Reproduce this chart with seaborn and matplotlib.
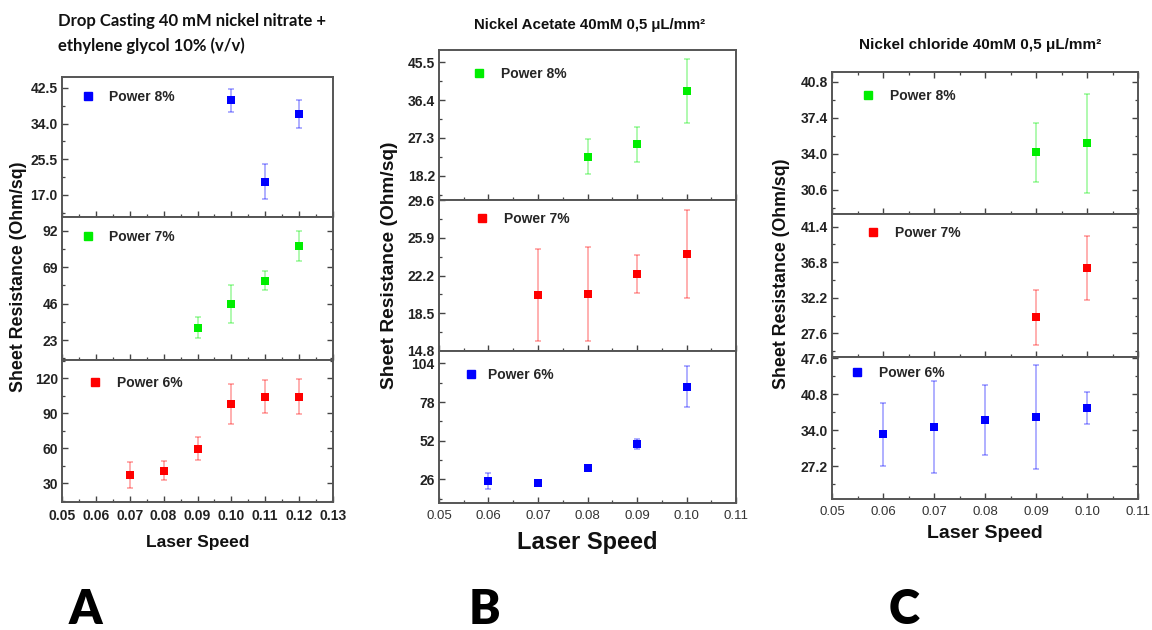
import matplotlib
matplotlib.use("Agg")
import matplotlib.pyplot as plt
from matplotlib.ticker import FixedLocator, FormatStrFormatter, MultipleLocator
from matplotlib.lines import Line2D
import seaborn as sns
import pandas as pd

sns.set_theme(style="white")
plt.rcParams['font.family'] = ['Liberation Sans', 'DejaVu Sans']

# ---------------- data ----------------
# Panel A: Drop casting nickel nitrate + ethylene glycol
a8_speed = [0.10, 0.11, 0.12]
a8_mean = [39.5, 20.1, 36.2]
a8_err = [2.8, 4.2, 3.3]
a7_speed = [0.09, 0.10, 0.11, 0.12]
a7_mean = [30.8, 45.8, 60.5, 82.4]
a7_err = [6.6, 11.8, 6.0, 9.7]
a6_speed = [0.07, 0.08, 0.09, 0.10, 0.11, 0.12]
a6_mean = [37.1, 40.8, 59.7, 98.0, 104.3, 104.3]
a6_err = [11.0, 8.1, 9.6, 17.5, 13.9, 15.0]

# Panel B: Nickel acetate
b8_speed = [0.08, 0.09, 0.10]
b8_mean = [22.8, 25.8, 38.7]
b8_err = [4.2, 4.2, 7.7]
b7_speed = [0.07, 0.08, 0.09, 0.10]
b7_mean = [20.27, 20.37, 22.34, 24.3]
b7_err = [4.5, 4.6, 1.9, 4.3]
b6_speed = [0.06, 0.07, 0.08, 0.09, 0.10]
b6_mean = [25.1, 23.5, 33.4, 49.6, 88.3]
b6_err = [5.4, 1.5, 2.0, 3.5, 13.7]

# Panel C: Nickel chloride
c8_speed = [0.09, 0.10]
c8_mean = [34.16, 35.0]
c8_err = [2.77, 4.7]
c7_speed = [0.09, 0.10]
c7_mean = [29.65, 36.06]
c7_err = [3.6, 4.2]
c6_speed = [0.06, 0.07, 0.08, 0.09, 0.10]
c6_mean = [33.2, 34.6, 35.9, 36.4, 38.2]
c6_err = [5.9, 8.7, 6.6, 9.8, 3.0]

labels = ["Power 8%", "Power 7%", "Power 6%"]
titles = ["Drop Casting 40 mM nickel nitrate +\nethylene glycol 10% (v/v)",
          "Nickel Acetate 40mM 0,5 \u03bcL/mm\u00b2",
          "Nickel chloride 40mM 0,5 \u03bcL/mm\u00b2"]
panel_letters = ["A", "B", "C"]

a_yticks = [[17.0, 25.5, 34.0, 42.5], [23, 46, 69, 92], [30, 60, 90, 120]]
b_yticks = [[18.2, 27.3, 36.4, 45.5], [14.8, 18.5, 22.2, 25.9, 29.6], [26, 52, 78, 104]]
c_yticks = [[30.6, 34.0, 37.4, 40.8], [27.6, 32.2, 36.8, 41.4], [27.2, 34.0, 40.8, 47.6]]
a_xticks = [0.05, 0.06, 0.07, 0.08, 0.09, 0.10, 0.11, 0.12, 0.13]
bc_xticks = [0.05, 0.06, 0.07, 0.08, 0.09, 0.10, 0.11]

BLUE, GREEN, RED = "#0000ff", "#00ee00", "#ff0000"

# ---------------- layout ----------------
W, H = 1152, 630
fig = plt.figure(figsize=(W / 100, H / 100), dpi=100)
fig.patch.set_facecolor("white")


def add_ax(x0, y0, x1, y1):
    return fig.add_axes([x0 / W, 1 - y1 / H, (x1 - x0) / W, (y1 - y0) / H])


def draw(ax, speed, mean, err, color, label, leg_xy, pad):
    df = pd.DataFrame({"speed": speed, "mean": mean})
    ax.errorbar(speed, mean, yerr=err, fmt="none", ecolor=color, alpha=0.4,
                elinewidth=1.1, capsize=2.5, capthick=1.1, zorder=2)
    sns.scatterplot(data=df, x="speed", y="mean", ax=ax, marker="s", s=36,
                    color=color, edgecolor=color, linewidth=0, zorder=3, legend=False)
    h = Line2D([], [], marker="s", linestyle="none", color=color, markersize=5.4)
    ax.legend([h], [label], loc="center left", bbox_to_anchor=leg_xy, frameon=False,
              handlelength=0.8, handletextpad=pad, borderpad=0, borderaxespad=0,
              prop={"weight": "bold", "size": 10})


def style(ax, xlim, xticks, ylim, yticks, fmt, bottom_labels, right_ticks, top_ticks,
          ytsize=10, xtbold=False, xtsize=9.5):
    ax.set_xlim(*xlim)
    ax.set_ylim(*ylim)
    ax.xaxis.set_major_locator(FixedLocator(xticks))
    ax.xaxis.set_minor_locator(MultipleLocator(0.005))
    ax.xaxis.set_major_formatter(FormatStrFormatter("%.2f"))
    ax.yaxis.set_major_locator(FixedLocator(yticks))
    step = yticks[1] - yticks[0]
    ax.yaxis.set_minor_locator(MultipleLocator(step / 2))
    ax.yaxis.set_major_formatter(FormatStrFormatter(fmt))
    ax.set_xlabel("")
    ax.set_ylabel("")
    ax.tick_params(axis="both", which="both", direction="in", colors="#444444",
                   labelcolor="#222222")
    ax.tick_params(axis="both", which="major", length=4.5, width=1.0)
    ax.tick_params(axis="both", which="minor", length=2.5, width=0.9)
    ax.tick_params(axis="y", which="both", left=True, right=right_ticks, labelsize=ytsize, pad=3)
    ax.tick_params(axis="x", which="both", bottom=True, top=top_ticks, labelbottom=bottom_labels,
                   labelsize=xtsize, pad=5)
    for lbl in ax.get_yticklabels():
        lbl.set_fontweight("bold")
    for lbl in ax.get_xticklabels():
        lbl.set_fontweight("bold" if xtbold else "normal")
        if not xtbold:
            lbl.set_color("#333333")
    for sp in ax.spines.values():
        sp.set_color("#555555")
        sp.set_linewidth(1.4)
    ax.set_facecolor("white")


# ---------- Panel A ----------
A_x0, A_x1 = 62, 333
A_rows = [(77, 217), (217, 360), (360, 502)]
a_sets = [(a8_speed, a8_mean, a8_err, BLUE), (a7_speed, a7_mean, a7_err, GREEN),
          (a6_speed, a6_mean, a6_err, RED)]
a_ylims = [(11.7, 45.1), (10.4, 100.7), (14.0, 135.7)]
a_fmts = ["%.1f", "%d", "%d"]
a_leg = [(0.075, 0.857), (0.075, 0.86), (0.10, 0.838)]
a_pad = [1.1, 1.1, 1.2]
for i, (y0, y1) in enumerate(A_rows):
    ax = add_ax(A_x0, y0, A_x1, y1)
    sp, mn, er, col = a_sets[i]
    draw(ax, sp, mn, er, col, labels[i], a_leg[i], a_pad[i])
    style(ax, (0.05, 0.13), a_xticks, a_ylims[i], a_yticks[i], a_fmts[i],
          bottom_labels=(i == 2), right_ticks=(i > 0), top_ticks=False,
          ytsize=10, xtbold=True, xtsize=10)

# ---------- Panel B ----------
B_x0, B_x1 = 439, 736
B_rows = [(50, 200), (200, 351), (351, 503)]
b_sets = [(b8_speed, b8_mean, b8_err, GREEN), (b7_speed, b7_mean, b7_err, RED),
          (b6_speed, b6_mean, b6_err, BLUE)]
b_ylims = [(12.35, 48.5), (14.8, 29.6), (10.1, 112.3)]
b_fmts = ["%.1f", "%.1f", "%d"]
b_leg = [(0.115, 0.84), (0.125, 0.874), (0.088, 0.842)]
b_pad = [1.2, 1.2, 0.85]
for i, (y0, y1) in enumerate(B_rows):
    ax = add_ax(B_x0, y0, B_x1, y1)
    sp, mn, er, col = b_sets[i]
    draw(ax, sp, mn, er, col, labels[i], b_leg[i], b_pad[i])
    style(ax, (0.05, 0.11), bc_xticks, b_ylims[i], b_yticks[i], b_fmts[i],
          bottom_labels=(i == 2), right_ticks=False, top_ticks=False,
          ytsize=10, xtbold=False, xtsize=9.5)

# ---------- Panel C ----------
C_x0, C_x1 = 832, 1138
C_rows = [(72, 214), (214, 357), (357, 499)]
c_sets = [(c8_speed, c8_mean, c8_err, GREEN), (c7_speed, c7_mean, c7_err, RED),
          (c6_speed, c6_mean, c6_err, BLUE)]
c_ylims = [(28.33, 41.74), (24.53, 43.05), (21.0, 47.8)]
c_fmts = ["%.1f", "%.1f", "%.1f"]
c_leg = [(0.098, 0.833), (0.115, 0.867), (0.063, 0.887)]
c_pad = [1.2, 1.2, 1.2]
for i, (y0, y1) in enumerate(C_rows):
    ax = add_ax(C_x0, y0, C_x1, y1)
    sp, mn, er, col = c_sets[i]
    draw(ax, sp, mn, er, col, labels[i], c_leg[i], c_pad[i])
    style(ax, (0.05, 0.11), bc_xticks, c_ylims[i], c_yticks[i], c_fmts[i],
          bottom_labels=(i == 2), right_ticks=True, top_ticks=(i == 0),
          ytsize=10, xtbold=False, xtsize=9.5)

# ---------- text ----------
def ftext(x, y, s, **kw):
    fig.text(x / W, 1 - y / H, s, **kw)

ylab = "Sheet Resistance (Ohm/sq)"
ftext(19, 277, ylab, rotation=90, ha="center", va="center", fontsize=12.8, fontweight="bold", color="#111111")
ftext(390, 265, ylab, rotation=90, ha="center", va="center", fontsize=13.8, fontweight="bold", color="#111111")
ftext(782, 274, ylab, rotation=90, ha="center", va="center", fontsize=12.8, fontweight="bold", color="#111111")

ftext(198, 542, "Laser Speed", ha="center", va="center", fontsize=12.5, fontweight="bold", color="#111111")
ftext(587, 542, "Laser Speed", ha="center", va="center", fontsize=17, fontweight="bold", color="#111111")
ftext(985, 534, "Laser Speed", ha="center", va="center", fontsize=14, fontweight="bold", color="#111111")

t1, t2 = titles[0].split("\n")
ftext(58, 21, t1, ha="left", va="center", fontsize=12, fontweight="bold", family="Lato", color="#111111")
ftext(58, 46, t2, ha="left", va="center", fontsize=12, fontweight="bold", family="Lato", color="#111111")
ftext(590, 25, titles[1], ha="center", va="center", fontsize=10.8, fontweight="bold", color="#111111")
ftext(980, 45, titles[2], ha="center", va="center", fontsize=11, fontweight="bold", color="#111111")

for (x, s) in zip([85, 484, 904], panel_letters):
    ftext(x, 610, s, ha="center", va="center", fontsize=34, fontweight="heavy", family="Lato", color="black")

fig.savefig("out.png", dpi=100, facecolor="white")
